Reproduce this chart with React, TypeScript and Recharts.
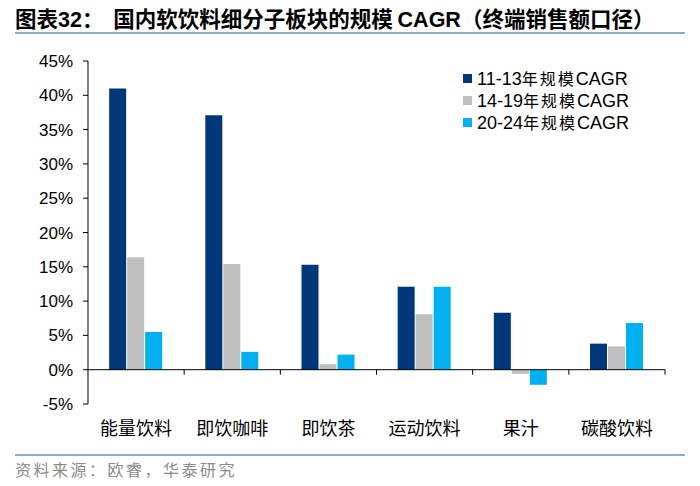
import React from 'react'
import {
  BarChart,
  Bar,
  XAxis,
  YAxis,
  ReferenceLine,
} from 'recharts'

// categories and CAGR values (%)
const categories = ['能量饮料', '即饮咖啡', '即饮茶', '运动饮料', '果汁', '碳酸饮料']
const cagr1113 = [41.0, 37.1, 15.3, 12.1, 8.3, 3.8]
const cagr1419 = [16.4, 15.4, 0.8, 8.1, -0.6, 3.4]
const cagr2024 = [5.5, 2.6, 2.2, 12.1, -2.2, 6.8]
const yTicks = [-5, 0, 5, 10, 15, 20, 25, 30, 35, 40, 45]

const seriesRanges = ['11-13', '14-19', '20-24']
const colors = ['#00367a', '#bfbfbf', '#00b0f0']

const data = categories.map((name, i) => ({
  name,
  a: cagr1113[i],
  b: cagr1419[i],
  c: cagr2024[i],
}))

const cjk = '"Noto Sans CJK SC", sans-serif'
const latin = '"Liberation Sans", Arial, sans-serif'

const ZeroLine = (props: any) => {
  const { x1, y1, x2 } = props
  const n = categories.length
  const step = (x2 - x1) / n
  const ticks = []
  for (let i = 1; i <= n; i++) {
    ticks.push(
      <line key={i} x1={x1 + step * i} x2={x1 + step * i} y1={y1} y2={y1 + 5} stroke="#000" strokeWidth={1} />
    )
  }
  return (
    <g>
      <line x1={x1} x2={x2} y1={y1} y2={y1} stroke="#000" strokeWidth={1} />
      {ticks}
    </g>
  )
}

const LegendBox = () => (
  <div style={{ position: 'absolute', left: 463, top: 67, color: '#000' }}>
    {seriesRanges.map((s, i) => (
      <div key={s} style={{ display: 'flex', alignItems: 'center', height: 22 }}>
        <span style={{ width: 9, height: 9, background: colors[i], display: 'inline-block', marginRight: 5 }} />
        <span
          style={{
            display: 'inline-block',
            height: 20,
            lineHeight: '20px',
            overflow: 'visible',
            whiteSpace: 'nowrap',
            fontFamily: latin,
            fontSize: 18,
          }}
        >
          {s}
          <span style={{ fontFamily: cjk, fontSize: 16, letterSpacing: 2 }}>年规模</span>CAGR
        </span>
      </div>
    ))}
  </div>
)

export default function App() {
  return (
    <div style={{ position: 'absolute', left: 0, top: 0, width: 700, height: 486, background: '#fff' }}>
      <div
        style={{
          position: 'absolute',
          left: 15,
          top: 5,
          fontFamily: cjk,
          fontWeight: 'bold',
          fontSize: 21.5,
          lineHeight: '26px',
          whiteSpace: 'nowrap',
          color: '#000',
        }}
      >
        图表<span style={{ fontFamily: latin }}>32</span>：&nbsp;&nbsp;国内软饮料细分子板块的规模 <span style={{ fontFamily: latin }}>CAGR</span>（终端销售额口径）
      </div>
      <div style={{ position: 'absolute', left: 15, top: 32, width: 670, height: 2, background: '#8eaad0' }} />

      <div style={{ position: 'absolute', left: 0, top: 0 }}>
        <BarChart
          width={700}
          height={486}
          data={data}
          margin={{ top: 61, right: 35, left: 0, bottom: 52 }}
          barCategoryGap="22%"
          barGap={1}
        >
          <XAxis
            dataKey="name"
            axisLine={false}
            tickLine={false}
            height={30}
            tickMargin={12}
            interval={0}
            tick={{ fill: '#000', fontSize: 18, fontFamily: cjk }}
          />
          <YAxis
            width={88}
            domain={[-5, 45]}
            ticks={yTicks}
            interval={0}
            tickFormatter={(v: number) => `${v}%`}
            axisLine={{ stroke: '#000' }}
            tickLine={{ stroke: '#000' }}
            tickSize={5}
            tickMargin={10}
            tick={{ fill: '#000', fontSize: 17, fontFamily: latin }}
          />
          <ReferenceLine y={0} shape={ZeroLine} />
          <Bar dataKey="a" fill={colors[0]} isAnimationActive={false} />
          <Bar dataKey="b" fill={colors[1]} isAnimationActive={false} />
          <Bar dataKey="c" fill={colors[2]} isAnimationActive={false} />
        </BarChart>
      </div>
      <LegendBox />

      <div style={{ position: 'absolute', left: 15, top: 454, width: 670, height: 2, background: '#8eaad0' }} />
      <div
        style={{
          position: 'absolute',
          left: 15,
          top: 457,
          fontFamily: cjk,
          fontSize: 16,
          letterSpacing: 2.5,
          color: '#8c8c8c',
          whiteSpace: 'nowrap',
        }}
      >
        资料来源：欧睿，华泰研究
      </div>
    </div>
  )
}
